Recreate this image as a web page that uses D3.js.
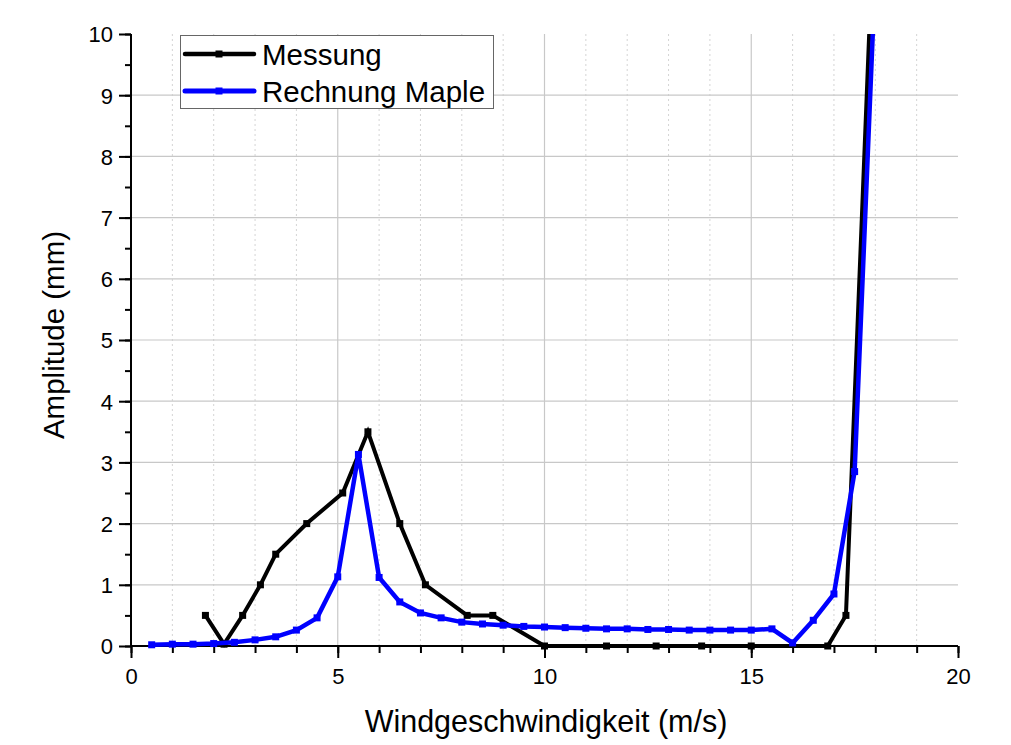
<!DOCTYPE html>
<html>
<head>
<meta charset="utf-8">
<script src="https://cdn.jsdelivr.net/npm/d3@7"></script>
<style>
  html, body { margin: 0; padding: 0; background: #fff; }
  svg { display: block; font-family: "Liberation Sans", Arial, sans-serif; }
</style>
</head>
<body>
<svg id="chart" width="1011" height="745"></svg>
<script>
// Messung: gemessene Amplituden (Windgeschwindigkeit m/s, Amplitude mm)
const messungX = [1.8, 2.25, 2.7, 3.13, 3.5, 4.25, 5.12, 5.73, 6.5, 7.12, 8.13, 8.75, 10.0, 11.5, 12.7, 13.8, 15.0, 16.85, 17.29, 18.0];
const messungY = [0.5, 0.03, 0.5, 1.0, 1.5, 2.0, 2.5, 3.5, 2.0, 1.0, 0.5, 0.5, 0.0, 0.0, 0.0, 0.0, 0.0, 0.0, 0.5, 12.5];

// Rechnung Maple: berechnete Amplituden
const rechnungX = [0.5, 1.0, 1.5, 2.0, 2.5, 3.0, 3.5, 4.0, 4.5, 5.0, 5.5, 6.0, 6.5, 7.0, 7.5, 8.0, 8.5, 9.0,
                   9.5, 10.0, 10.5, 11.0, 11.5, 12.0, 12.5, 13.0, 13.5, 14.0, 14.5, 15.0, 15.5, 16.0, 16.5, 17.0, 17.5, 18.0];
const rechnungY = [0.02, 0.03, 0.03, 0.04, 0.06, 0.1, 0.15, 0.26, 0.46, 1.13, 3.13, 1.12, 0.72, 0.54, 0.46, 0.39, 0.36, 0.34,
                   0.32, 0.31, 0.3, 0.29, 0.28, 0.28, 0.27, 0.27, 0.26, 0.26, 0.26, 0.26, 0.28, 0.05, 0.42, 0.85, 2.85, 11.0];

const xTicks = [0, 5, 10, 15, 20];
const yTicks = [0, 1, 2, 3, 4, 5, 6, 7, 8, 9, 10];
const xMinor = d3.range(0, 21, 1);
const yMinor = d3.range(0, 10.01, 0.5);

const seriesNames = ["Messung", "Rechnung Maple"];
const seriesColors = ["#000000", "#0000ff"];

const plotLeft = 131, plotRight = 958, plotTop = 34, plotBottom = 646;

const svg = d3.select("#chart");
const x = d3.scaleLinear().domain([0, 20]).range([plotLeft, plotRight]);
const y = d3.scaleLinear().domain([0, 10]).range([plotBottom, plotTop]);

// grid
const grid = svg.append("g");
grid.selectAll("line.vminor").data(xMinor.filter(d => d % 5 !== 0)).join("line")
  .attr("x1", d => x(d)).attr("x2", d => x(d)).attr("y1", plotTop).attr("y2", plotBottom)
  .attr("stroke", "#d4d4d4").attr("stroke-width", 1).attr("stroke-dasharray", "2,3");
grid.selectAll("line.vmajor").data(xTicks.filter(d => d > 0 && d < 20)).join("line")
  .attr("x1", d => x(d)).attr("x2", d => x(d)).attr("y1", plotTop).attr("y2", plotBottom)
  .attr("stroke", "#c8c8c8").attr("stroke-width", 1.2);
grid.selectAll("line.hmajor").data(yTicks.filter(d => d > 0 && d < 10)).join("line")
  .attr("x1", plotLeft).attr("x2", plotRight).attr("y1", d => y(d)).attr("y2", d => y(d))
  .attr("stroke", "#c8c8c8").attr("stroke-width", 1.2);

// axes
const xAxisMinor = d3.axisBottom(x).tickValues(xMinor).tickSize(7).tickFormat("");
const xAxis = d3.axisBottom(x).tickValues(xTicks).tickSize(12).tickPadding(10).tickFormat(d3.format("d"));
const yAxisMinor = d3.axisLeft(y).tickValues(yMinor).tickSize(6).tickFormat("");
const yAxis = d3.axisLeft(y).tickValues(yTicks).tickSize(12).tickPadding(6).tickFormat(d3.format("d"));

function styleAxis(g) {
  g.selectAll("path.domain").attr("stroke", "#000").attr("stroke-width", 2);
  g.selectAll(".tick line").attr("stroke", "#000").attr("stroke-width", 2);
  g.selectAll("text").attr("fill", "#000").style("font-size", "22px")
    .style("font-family", "'Liberation Sans', Arial, sans-serif");
}
svg.append("g").attr("transform", `translate(0,${plotBottom})`).call(xAxisMinor).call(styleAxis)
  .select("path.domain").remove();
svg.append("g").attr("transform", `translate(0,${plotBottom})`).call(xAxis).call(styleAxis)
  .call(g => g.select("path.domain").attr("d", `M${plotLeft},0H${plotRight}`));
svg.append("g").attr("transform", `translate(${plotLeft},0)`).call(yAxisMinor).call(styleAxis)
  .select("path.domain").remove();
svg.append("g").attr("transform", `translate(${plotLeft},0)`).call(yAxis).call(styleAxis)
  .call(g => g.select("path.domain").attr("d", `M0,${plotBottom}V${plotTop}`))
  .call(g => g.selectAll("text").attr("dy", "0.36em"));

// axis titles
svg.append("text").attr("x", 546).attr("y", 732)
  .attr("text-anchor", "middle").style("font-size", "30.5px").attr("fill", "#000")
  .text("Windgeschwindigkeit (m/s)");
svg.append("text").attr("transform", `translate(64,${335}) rotate(-90)`)
  .attr("text-anchor", "middle").style("font-size", "29.5px").attr("fill", "#000")
  .text("Amplitude (mm)");

// data
svg.append("defs").append("clipPath").attr("id", "plotClip")
  .append("rect").attr("x", plotLeft - 10).attr("y", plotTop)
  .attr("width", plotRight - plotLeft + 20).attr("height", plotBottom - plotTop + 10);

const series = [
  { name: seriesNames[0], color: seriesColors[0], width: 4, pts: messungX.map((v, i) => [v, messungY[i]]) },
  { name: seriesNames[1], color: seriesColors[1], width: 4.5, pts: rechnungX.map((v, i) => [v, rechnungY[i]]) }
];

const line = d3.line().x(d => x(d[0])).y(d => y(d[1]));
const plot = svg.append("g").attr("clip-path", "url(#plotClip)");
series.forEach(s => {
  const g = plot.append("g");
  g.append("path").datum(s.pts).attr("d", line)
    .attr("fill", "none").attr("stroke", s.color).attr("stroke-width", s.width)
    .attr("stroke-linejoin", "miter");
  g.selectAll("rect").data(s.pts).join("rect")
    .attr("x", d => x(d[0]) - 3.5).attr("y", d => y(d[1]) - 3.5)
    .attr("width", 7).attr("height", 7).attr("fill", s.color);
});

// legend
const lg = svg.append("g");
lg.append("rect").attr("x", 180.5).attr("y", 35.5).attr("width", 313).attr("height", 73)
  .attr("fill", "#fff").attr("stroke", "#666").attr("stroke-width", 1);
series.forEach((s, i) => {
  const cy = 54 + i * 37;
  lg.append("line").attr("x1", 185).attr("x2", 254).attr("y1", cy).attr("y2", cy)
    .attr("stroke", s.color).attr("stroke-width", s.width + 0.5).attr("stroke-linecap", "round");
  lg.append("rect").attr("x", 219 - 3.5).attr("y", cy - 3.5).attr("width", 7).attr("height", 7).attr("fill", s.color);
  lg.append("text").attr("x", 262).attr("y", cy + 10.5).style("font-size", "29.5px").attr("fill", "#000").text(s.name);
});
</script>
</body>
</html>
